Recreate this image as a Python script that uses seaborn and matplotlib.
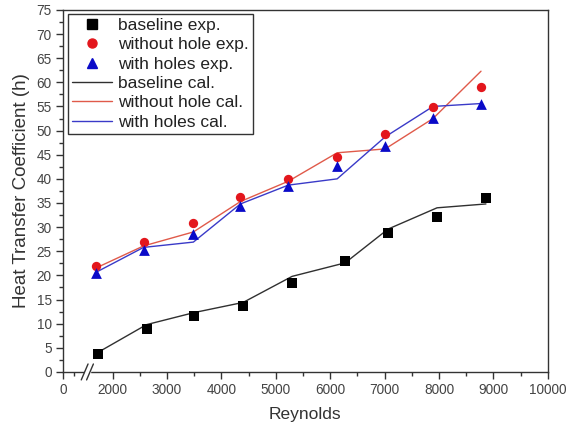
import numpy as np
import pandas as pd
import seaborn as sns
import matplotlib
matplotlib.use("Agg")
import matplotlib.pyplot as plt
from matplotlib.lines import Line2D

# ---- data ----
re_base = [1725, 2625, 3500, 4400, 5300, 6275, 7064, 7963, 8862]
re_hole = [1690, 2570, 3486, 4350, 5230, 6128, 7010, 7890, 8771]

base_exp = [3.75, 9.0, 11.6, 13.75, 18.4, 22.9, 28.75, 32.1, 36.0]
nohole_exp = [21.9, 26.9, 30.8, 36.2, 40.0, 44.6, 49.2, 54.8, 59.0]
holes_exp = [20.4, 25.2, 28.5, 34.4, 38.5, 42.7, 46.9, 52.7, 55.6]

base_cal = [4.0, 9.8, 12.3, 14.4, 19.8, 22.6, 29.6, 34.0, 34.8]
nohole_cal = [21.5, 26.1, 29.0, 35.3, 39.5, 45.4, 46.2, 52.5, 62.3]
holes_cal = [20.6, 25.8, 26.9, 34.8, 38.7, 40.0, 48.7, 55.0, 55.6]

x_major = [0, 2000, 3000, 4000, 5000, 6000, 7000, 8000, 9000, 10000]
x_minor = [500, 2500, 3500, 4500, 5500, 6500, 7500, 8500, 9500]

sns.set_style("ticks")
plt.rcParams["font.family"] = ["Liberation Sans", "DejaVu Sans"]

RED = "#e3161c"
BLUE = "#0a0ac8"


# broken x axis: 0-1000 squeezed, gap 1000-1500, then linear
def fwd(x):
    x = np.asarray(x, dtype=float)
    return np.where(x <= 1000, x * 0.022,
                    np.where(x <= 1500, 22 + (x - 1000) * 0.001,
                             22.5 + (x - 1500) * 0.0545))


def inv(p):
    p = np.asarray(p, dtype=float)
    return np.where(p <= 22, p / 0.022,
                    np.where(p <= 22.5, 1000 + (p - 22) / 0.001,
                             1500 + (p - 22.5) / 0.0545))


fig = plt.figure(figsize=(5.66, 4.30), dpi=100)
ax = fig.add_axes([0.111, 0.135, 0.857, 0.842])
ax.set_xscale("function", functions=(fwd, inv))

df_base = pd.DataFrame({"Re": re_base, "exp": base_exp, "cal": base_cal})
df_hole = pd.DataFrame({"Re": re_hole, "nohole_exp": nohole_exp, "holes_exp": holes_exp,
                        "nohole_cal": nohole_cal, "holes_cal": holes_cal})

sns.lineplot(data=df_base, x="Re", y="cal", color="#303030", lw=1.0, ax=ax, sort=False)
sns.lineplot(data=df_hole, x="Re", y="nohole_cal", color="#e05a4a", lw=1.0, ax=ax, sort=False)
sns.lineplot(data=df_hole, x="Re", y="holes_cal", color="#3a3ac8", lw=1.0, ax=ax, sort=False)

sns.scatterplot(data=df_base, x="Re", y="exp", marker="s", s=45, color="black",
                edgecolor="black", linewidth=0, ax=ax, zorder=3)
sns.scatterplot(data=df_hole, x="Re", y="nohole_exp", marker="o", s=45, color=RED,
                edgecolor=RED, linewidth=0, ax=ax, zorder=3)
sns.scatterplot(data=df_hole, x="Re", y="holes_exp", marker="^", s=60, color=BLUE,
                edgecolor=BLUE, linewidth=0, ax=ax, zorder=3)

ax.set_xlim(0, 10000)
ax.set_ylim(0, 75)
ax.set_xticks(x_major)
ax.set_xticks(x_minor, minor=True)
ax.set_yticks(np.arange(0, 76, 5))
ax.set_yticks(np.arange(2.5, 75, 5), minor=True)
ax.tick_params(axis="both", which="major", direction="out", length=5, width=1,
               color="#333333", labelsize=9.8, labelcolor="#444444", pad=3)
ax.tick_params(axis="both", which="minor", direction="out", length=3, width=1, color="#333333")
for sp in ax.spines.values():
    sp.set_color("#333333")
    sp.set_linewidth(1.0)

ax.set_xlabel("Reynolds", fontsize=12.5, color="#333333", labelpad=7)
ax.set_ylabel("Heat Transfer Coefficient (h)", fontsize=13.5, color="#333333", labelpad=5)

# axis break marks (axes fraction coordinates)
ax.fill_between([0.045, 0.056], -0.006, 0.006, color="white", transform=ax.transAxes,
                clip_on=False, zorder=5)
for xb in (0.045, 0.056):
    ax.plot([xb - 0.007, xb + 0.007], [-0.022, 0.022], color="#333333", lw=1.0,
            transform=ax.transAxes, clip_on=False, zorder=6)

handles = [
    Line2D([], [], ls="none", marker="s", ms=6.5, color="black"),
    Line2D([], [], ls="none", marker="o", ms=6.5, color=RED),
    Line2D([], [], ls="none", marker="^", ms=7.5, color=BLUE),
    Line2D([], [], color="#303030", lw=1.0),
    Line2D([], [], color="#e05a4a", lw=1.0),
    Line2D([], [], color="#3a3ac8", lw=1.0),
]
labels = ["baseline exp.", "without hole exp.", "with holes exp.",
          "baseline cal.", "without hole cal.", "with holes cal."]
leg = ax.legend(handles, labels, loc="upper left", bbox_to_anchor=(0.01, 0.99),
                fontsize=12.5, frameon=True, fancybox=False, framealpha=1,
                edgecolor="#333333", handlelength=2.3, handletextpad=0.35,
                labelspacing=0.24, borderpad=0.25, borderaxespad=0)
leg.get_frame().set_linewidth(1.0)
for t in leg.get_texts():
    t.set_color("#222222")

fig.savefig("out.png", dpi=100)
